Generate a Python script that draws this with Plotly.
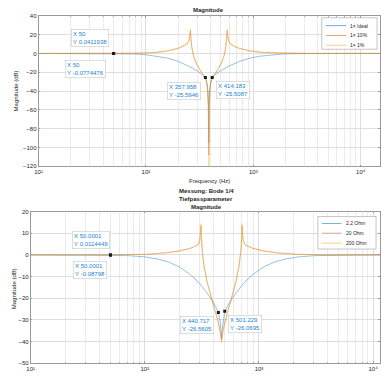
import math
import plotly.graph_objects as go

# ---------------- data ----------------
# Top panel: Magnitude, three tolerance cases
top_names = ["1× Ideal", "1× 10%", "1× 1%"]
top_blue_f = [10, 20, 30, 40, 50, 60, 80, 100, 130, 160, 200, 250, 300, 330, 357.958, 370, 378, 383, 385,
              387, 392, 400.6, 414.183, 449, 494, 593, 741, 926, 1140, 1482, 1853, 2470, 2964, 3706, 4941, 7411, 16000]
top_blue_db = [0, -0.005, -0.012, -0.03, -0.0774, -0.2, -0.6, -1.4, -3.0, -5.0, -8.5, -13.5, -18.5, -21.8, -25.59, -31, -40, -55, -95,
               -55, -40, -31, -25.51, -21.8, -18.5, -13.5, -8.5, -5.0, -3.0, -1.4, -0.6, -0.2, -0.08, -0.03, -0.012, -0.005, 0]
top_orange_f = [10, 20, 30, 50, 80, 120, 160, 200, 225, 243, 252, 257, 260, 263, 268, 278, 295, 320, 345, 362, 374, 381, 385,
                389, 396, 409, 430, 463, 502, 533, 553, 564, 570, 577, 588, 610, 659, 741, 926, 1235, 1853, 2964, 4941, 7411, 16000]
top_orange_db = [0, 0.005, 0.015, 0.0412, 0.25, 1.0, 2.8, 5.5, 8.0, 10.5, 14, 19, 24, 15, 6, -3, -11, -18, -23, -28, -36, -55, -108,
                 -55, -36, -28, -23, -18, -11, -3, 6, 15, 24, 19, 14, 10.5, 8.0, 5.5, 2.8, 1.0, 0.25, 0.0412, 0.015, 0.005, 0]
top_yellow_f = [10, 20, 30, 50, 80, 120, 160, 200, 225, 243, 252, 256, 259, 262, 267, 277, 294, 320, 345, 363, 375, 382, 385,
                388, 395, 408, 430, 463, 504, 535, 555, 566, 572, 579, 588, 610, 659, 741, 926, 1235, 1853, 2964, 4941, 7411, 16000]
top_yellow_db = [0, 0.004, 0.012, 0.035, 0.22, 0.9, 2.6, 5.2, 7.5, 10, 13.5, 18, 26, 16, 7, -2, -10, -17.5, -23, -28, -37, -60, -130,
                 -60, -37, -28, -23, -17.5, -10, -2, 7, 16, 26, 18, 13.5, 10, 7.5, 5.2, 2.6, 0.9, 0.22, 0.035, 0.012, 0.004, 0]
top_tip_x = [50, 50, 357.958, 414.183]
top_tip_y = [0.0411938, -0.0774476, -25.5946, -25.5087]
top_tip_xlabel = ["50", "50", "357.958", "414.183"]
top_tip_ylabel = ["0.0411938", "-0.0774476", "-25.5946", "-25.5087"]

# Bottom panel: measurement, three load resistances
bot_names = ["2.2 Ohm", "20 Ohm", "200 Ohm"]
bot_blue_f = [10, 20, 30, 40, 50.0001, 70, 100, 130, 160, 200, 250, 300, 350, 400, 440.717, 455, 465, 470,
              475, 485.5, 501.229, 552, 631, 736, 884, 1105, 1381, 1699, 2209, 3156, 4418, 5523, 7363, 11045, 12000]
bot_blue_db = [0, -0.003, -0.012, -0.04, -0.088, -0.3, -0.9, -1.9, -3.2, -5.5, -9, -13, -17.5, -22, -26.56, -30, -35, -39,
               -35, -30, -26.07, -22, -17.5, -13, -9, -5.5, -3.2, -1.9, -0.9, -0.3, -0.088, -0.04, -0.012, -0.003, 0]
bot_orange_f = [10, 30, 50.0001, 80, 100, 150, 200, 250, 290, 302, 307, 310, 313, 318, 330, 350, 380, 410, 440, 460, 470,
                480, 502, 539, 581, 631, 669, 695, 706, 713, 720, 731, 762, 884, 1105, 1473, 2209, 2761, 4418, 7363, 12000]
bot_orange_db = [0, 0.002, 0.0114, 0.1, 0.25, 0.9, 1.8, 3.0, 4.5, 6, 9, 13.5, 8, 2, -5, -12, -19, -25, -31, -36, -39.5,
                 -36, -31, -25, -19, -12, -5, 2, 8, 13.5, 9, 6, 4.5, 3.0, 1.8, 0.9, 0.25, 0.1, 0.0114, 0.002, 0]
bot_yellow_f = [10, 30, 50, 80, 100, 150, 200, 250, 290, 303, 308, 311, 314, 319, 331, 351, 381, 411, 441, 461, 470,
                479, 501, 537, 580, 629, 667, 692, 703, 710, 717, 729, 762, 884, 1105, 1473, 2209, 2761, 4418, 7363, 12000]
bot_yellow_db = [0, 0.002, 0.012, 0.1, 0.26, 0.95, 1.9, 3.1, 4.7, 6.5, 10, 14.5, 8, 1.5, -5.5, -12.5, -19.5, -25.5, -31.5, -36.5, -40.5,
                 -36.5, -31.5, -25.5, -19.5, -12.5, -5.5, 1.5, 8, 14.5, 10, 6.5, 4.7, 3.1, 1.9, 0.95, 0.26, 0.1, 0.012, 0.002, 0]
bot_tip_x = [50.0001, 50.0001, 440.717, 501.229]
bot_tip_y = [0.0114449, -0.08798, -26.5605, -26.0695]
bot_tip_xlabel = ["50.0001", "50.0001", "440.717", "501.229"]
bot_tip_ylabel = ["0.0114449", "-0.08798", "-26.5605", "-26.0695"]

top_yticks = [40, 20, 0, -20, -40, -60, -80, -100, -120]
bot_yticks = [20, 10, 0, -10, -20, -30, -40, -50]
x_ticks = [10, 100, 1000, 10000]
x_ticktext = ["10¹", "10²", "10³", "10⁴"]

# ---------------- style ----------------
W, H = 381, 378
COLORS = ["#0072BD", "#D95319", "#EDB120"]
FONT = "Liberation Sans, Arial, sans-serif"
TXT = "#262626"
TIPBLUE = "#1a7fd6"


def px(x):
    return x / W


def py(y):
    return 1 - y / H


fig = go.Figure()


def add_curves(fl, dl, names, xa, ya):
    for f, d, n, c in zip(fl, dl, names, COLORS):
        fig.add_trace(go.Scatter(x=f, y=d, mode="lines", name=n, showlegend=False, opacity=0.6,
                                 line=dict(color=c, width=0.7), xaxis=xa, yaxis=ya))


add_curves([top_blue_f, top_orange_f, top_yellow_f], [top_blue_db, top_orange_db, top_yellow_db], top_names, "x", "y")
add_curves([bot_blue_f, bot_orange_f, bot_yellow_f], [bot_blue_db, bot_orange_db, bot_yellow_db], bot_names, "x2", "y2")

for tx, ty, xa, ya in [(top_tip_x, top_tip_y, "x", "y"), (bot_tip_x, bot_tip_y, "x2", "y2")]:
    fig.add_trace(go.Scatter(x=tx, y=ty, mode="markers", showlegend=False, xaxis=xa, yaxis=ya,
                             marker=dict(symbol="square", size=3, color="#1a1a1a")))

# data tip boxes: (xanchor, yanchor, xshift, yshift)
top_tip_pos = [("right", "bottom", -5, 6), ("right", "top", -8, -6), ("right", "top", -4, -4), ("left", "top", 4, -4)]
bot_tip_pos = [("right", "bottom", 0, 6), ("right", "top", -3, -6), ("right", "top", -4, -4), ("left", "top", 3, -4)]
for tx, ty, xl, yl, pos, xr, yr in [(top_tip_x, top_tip_y, top_tip_xlabel, top_tip_ylabel, top_tip_pos, "x", "y"),
                                    (bot_tip_x, bot_tip_y, bot_tip_xlabel, bot_tip_ylabel, bot_tip_pos, "x2", "y2")]:
    for x, y, a, b, (xa, ya, xs, ys) in zip(tx, ty, xl, yl, pos):
        fig.add_annotation(x=math.log10(x), y=y, xref=xr, yref=yr, showarrow=False,
                           xanchor=xa, yanchor=ya, xshift=xs, yshift=ys, align="left",
                           text=f"X {a}<br>Y {b}",
                           font=dict(family=FONT, size=6, color=TIPBLUE),
                           bgcolor="white", bordercolor="#c8c8c8", borderwidth=0.6, borderpad=1.5)


def label(x, y, text, size=6, bold=False, angle=0):
    fig.add_annotation(x=px(x), y=py(y), xref="paper", yref="paper", showarrow=False,
                       text=f"<b>{text}</b>" if bold else text, textangle=angle,
                       font=dict(family=FONT, size=size, color=TXT), xanchor="center", yanchor="middle")


label(207, 7, "Magnitude", bold=True)
label(208, 181, "Frequency (Hz)")
label(205, 191, "Messung: Bode 1/4", bold=True)
label(205, 199, "Tiefpassparameter", bold=True)
label(205, 207, "Magnitude", bold=True)
label(12, 89, "Magnitude (dB)", angle=-90)
label(11, 290, "Magnitude (dB)", angle=-90)


def legend(x0, x1, y0, y1, rows, lx0, lx1, tx, names):
    fig.add_shape(type="rect", xref="paper", yref="paper", x0=px(x0), x1=px(x1), y0=py(y1), y1=py(y0),
                  line=dict(color="#a0a0a0", width=0.6), fillcolor="white", layer="above")
    for r, n, c in zip(rows, names, COLORS):
        fig.add_shape(type="line", xref="paper", yref="paper", x0=px(lx0), x1=px(lx1), y0=py(r), y1=py(r),
                      line=dict(color=c, width=0.8), opacity=0.7, layer="above")
        fig.add_annotation(x=px(tx), y=py(r), xref="paper", yref="paper", showarrow=False, text=n,
                           xanchor="left", yanchor="middle", font=dict(family=FONT, size=5, color=TXT))


legend(322, 378, 15, 47, [23, 33, 43], 326, 347, 349, top_names)
legend(318, 377, 217, 250, [224, 234, 244], 322, 342, 345, bot_names)

axis_common = dict(showline=True, linecolor="#9a9a9a", linewidth=0.6, mirror="allticks",
                   ticks="inside", ticklen=2, tickcolor="#9a9a9a", zeroline=False,
                   gridcolor="#dedede", gridwidth=0.5,
                   tickfont=dict(family=FONT, size=6, color=TXT))
minor = dict(dtick="D1", showgrid=True, gridcolor="#ececec", gridwidth=0.5, ticks="inside", ticklen=1, tickcolor="#b0b0b0")

fig.update_layout(
    width=W, height=H, margin=dict(l=0, r=0, t=0, b=0),
    paper_bgcolor="white", plot_bgcolor="white", showlegend=False,
    xaxis=dict(type="log", range=[1, 4.18], domain=[px(35), 1], anchor="y",
               tickvals=x_ticks, ticktext=x_ticktext, minor=minor, **axis_common),
    yaxis=dict(range=[-120, 40], domain=[py(166), py(13)], anchor="x", tickvals=top_yticks,
               **axis_common),
    xaxis2=dict(type="log", range=[1, 4.06], domain=[px(27), 1], anchor="y2",
                tickvals=x_ticks, ticktext=x_ticktext, minor=minor, **axis_common),
    yaxis2=dict(range=[-50, 20], domain=[py(366), py(212)], anchor="x2", tickvals=bot_yticks,
                **axis_common),
)

fig.write_html("out.html", config={"displayModeBar": False},
               post_script="document.body.style.margin='0';")
